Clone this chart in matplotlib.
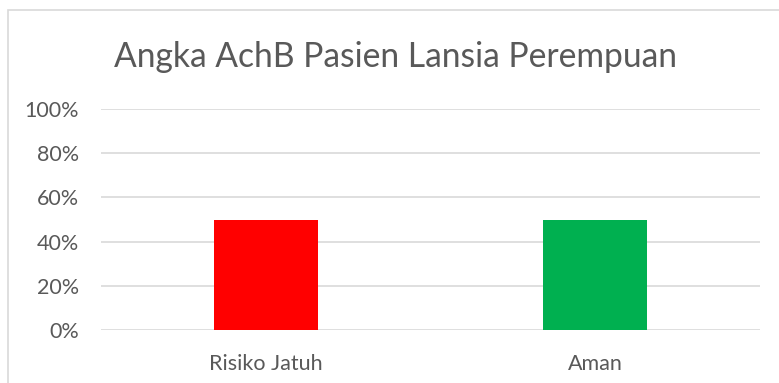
import numpy as np
import matplotlib.pyplot as plt
from matplotlib.patches import Rectangle
from matplotlib.ticker import PercentFormatter

categories = ['Risiko Jatuh', 'Aman']
values = [0.50, 0.50]
colors = ['#ff0000', '#00b050']
yticks = [0, 0.2, 0.4, 0.6, 0.8, 1.0]

plt.rcParams['font.family'] = ['Lato', 'DejaVu Sans']
text_color = '#595959'
grid_color = '#d9d9d9'

fig = plt.figure(figsize=(7.79, 3.83), dpi=100)

# chart frame (runs past the right and bottom edge)
fig.patches.append(Rectangle((8 / 779, -0.1), 1.0, 1 - 10 / 383 + 0.1,
                             transform=fig.transFigure, fill=False,
                             edgecolor=grid_color, linewidth=1.2))

ax = fig.add_axes([101 / 779, 1 - 330 / 383, 659 / 779, 221 / 383])
x = np.arange(len(categories))
ax.bar(x, values, width=0.316, color=colors, zorder=3)

ax.set_xlim(-0.5, len(categories) - 0.5)
ax.set_ylim(0, 1)
ax.set_yticks(yticks)
ax.yaxis.set_major_formatter(PercentFormatter(1.0, decimals=0))
ax.set_xticks(x)
ax.set_xticklabels(categories)
ax.grid(axis='y', color=grid_color, linewidth=1.2, zorder=0)
for s in ax.spines.values():
    s.set_visible(False)
ax.tick_params(length=0, labelsize=15.5, labelcolor=text_color)
ax.tick_params(axis='y', pad=16)
ax.tick_params(axis='x', pad=17)

fig.text(395 / 779, 1 - 67 / 383, 'Angka AchB Pasien Lansia Perempuan',
         ha='center', va='baseline', fontsize=24.2, color=text_color)

fig.savefig('out.png', dpi=100)
